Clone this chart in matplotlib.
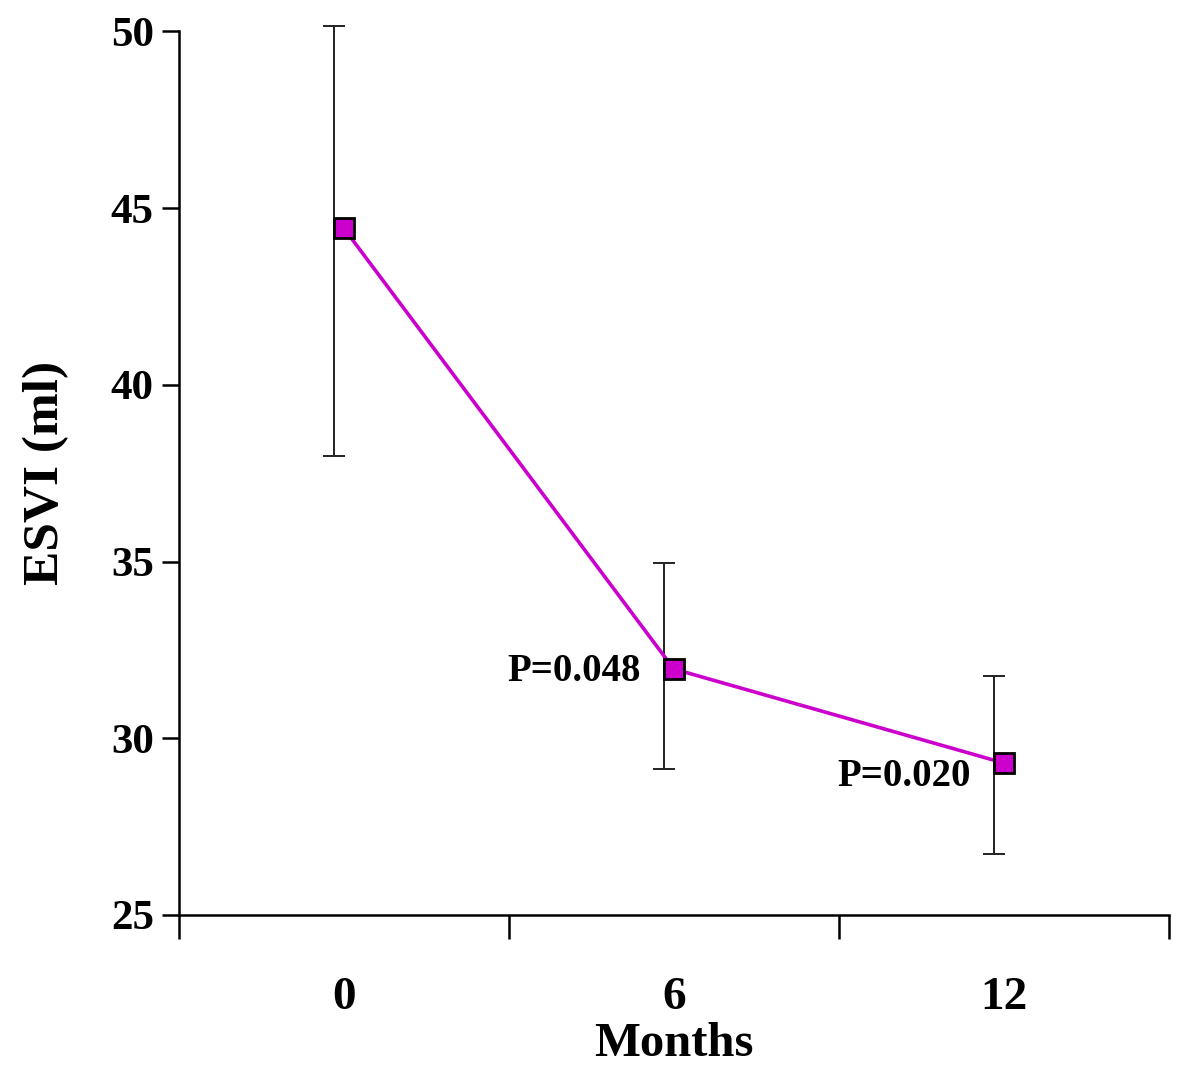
import numpy as np
import matplotlib.pyplot as plt

# data
months = ["0", "6", "12"]
esvi = [44.43, 31.96, 29.30]
err_top = [50.14, 34.95, 31.76]
err_bottom = [37.98, 29.13, 26.73]
p_labels = ["", "P=0.048", "P=0.020"]

plt.rcParams['font.family'] = ['Liberation Serif', 'DejaVu Serif']
plt.rcParams['font.weight'] = 'bold'

fig = plt.figure(figsize=(12, 10.79), dpi=100)
ax = fig.add_axes([0.149, 0.152, 0.825, 0.819])

x = np.arange(len(months))
y = np.array(esvi)
lower = y - np.array(err_bottom)
upper = np.array(err_top) - y

# error bars sit slightly left of the markers, as in the original
eb = ax.errorbar(x - 0.03, y, yerr=[lower, upper], fmt='none', ecolor='#222222',
                 elinewidth=1.4, capsize=8, capthick=1.4, zorder=2)
for art in eb.lines[1] + eb.lines[2]:
    art.set_clip_on(False)
ax.plot(x, y, color='#CC00CC', lw=2.6, marker='s', markersize=14,
        markerfacecolor='#CC00CC', markeredgecolor='black',
        markeredgewidth=2, zorder=3)

# p-value labels, left of the point (second one sits a bit lower)
text_offsets = [(0, 0), (-24, -2), (-24, -10)]
for i, lab in enumerate(p_labels):
    if lab:
        ax.annotate(lab, (x[i], y[i]), xytext=text_offsets[i],
                    textcoords='offset points', ha='right', va='center',
                    fontsize=28, fontweight='bold')

ax.set_xlim(-0.5, 2.5)
ax.set_ylim(25, 50)
ax.set_yticks(np.arange(25, 51, 5))
ax.tick_params(axis='y', labelsize=31, length=12, width=1.8, pad=6)

# category boundaries as ticks, labels in between
ax.set_xticks([-0.5, 0.5, 1.5, 2.5])
ax.set_xticklabels([])
ax.set_xticks(x, minor=True)
ax.set_xticklabels(months, minor=True)
ax.tick_params(axis='x', which='major', length=17, width=1.8)
ax.tick_params(axis='x', which='minor', length=0, labelsize=34, pad=45)

for s in ['top', 'right']:
    ax.spines[s].set_visible(False)
for s in ['left', 'bottom']:
    ax.spines[s].set_linewidth(1.8)

ax.set_xlabel("Months", fontsize=35, fontweight='bold', labelpad=2)
ax.set_ylabel("ESVI (ml)", fontsize=37, fontweight='bold', labelpad=30)

fig.savefig("out.png", dpi=100)
